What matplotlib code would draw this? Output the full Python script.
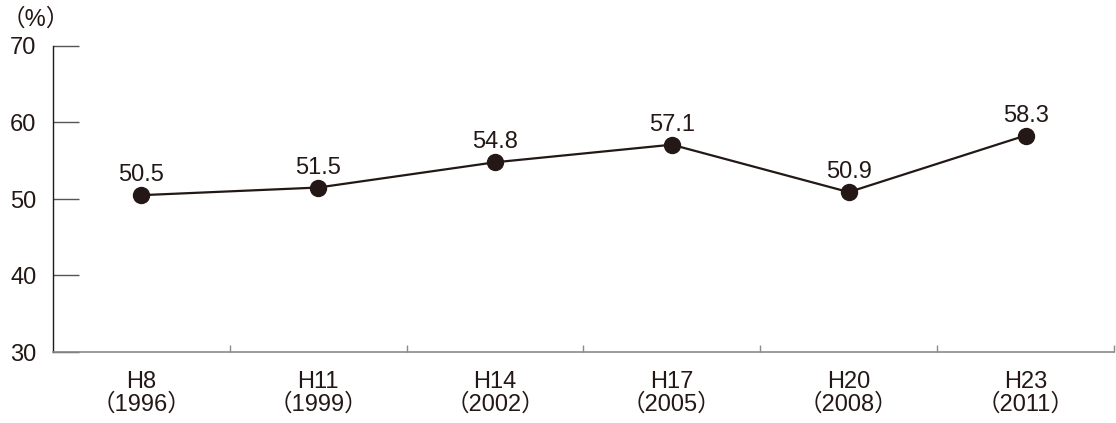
import matplotlib
matplotlib.use("Agg")
import matplotlib.pyplot as plt
from matplotlib.ticker import FixedLocator

categories = ["H8\n（1996）", "H11\n（1999）", "H14\n（2002）", "H17\n（2005）", "H20\n（2008）", "H23\n（2011）"]
values = [50.5, 51.5, 54.8, 57.1, 50.9, 58.3]
yticks = [30, 40, 50, 60, 70]

FAM = ["Liberation Sans", "Noto Sans CJK JP", "DejaVu Sans"]
plt.rcParams["font.family"] = FAM

DARK = "#231815"
GRAY = "#8a8a8a"
TICK = "#555555"
FS = 17

fig = plt.figure(figsize=(11.16, 4.23), dpi=100)
ax = fig.add_axes([53/1116, 1 - 352/423, (1114 - 53)/1116, (352 - 46)/423])

x = list(range(len(values)))
ax.plot(x, values, color=DARK, lw=1.6, marker="o", ms=11.5, mfc=DARK, mec=DARK, zorder=3)
for xi, v in zip(x, values):
    ax.annotate(f"{v:.1f}", (xi, v), xytext=(0, 10), textcoords="offset points",
                ha="center", va="baseline", fontsize=FS, color=DARK)

ax.set_xlim(-0.5, len(values) - 0.5)
ax.set_ylim(30, 70)
ax.set_yticks(yticks)
ax.set_yticklabels([str(t) for t in yticks])
ax.set_xticks(x)
ax.set_xticklabels(categories, linespacing=1.0)
ax.xaxis.set_minor_locator(FixedLocator([i + 0.5 for i in range(len(values))]))

for s in ["top", "right"]:
    ax.spines[s].set_visible(False)
ax.spines["left"].set_color(DARK)
ax.spines["left"].set_linewidth(1.0)
ax.spines["bottom"].set_color(GRAY)
ax.spines["bottom"].set_linewidth(1.2)

ax.tick_params(axis="y", direction="in", length=19, width=1.0, color=TICK,
               labelsize=FS, labelcolor=DARK, pad=12)
ax.tick_params(axis="x", which="major", length=0, labelsize=FS, labelcolor=DARK, pad=14)
ax.tick_params(axis="x", which="minor", direction="in", length=5, width=1.0, color=GRAY)

fig.text(36/1116, 1 - 20/423, "（%）", ha="center", va="center", fontsize=FS, color=DARK)

fig.savefig("out.png", dpi=100)
